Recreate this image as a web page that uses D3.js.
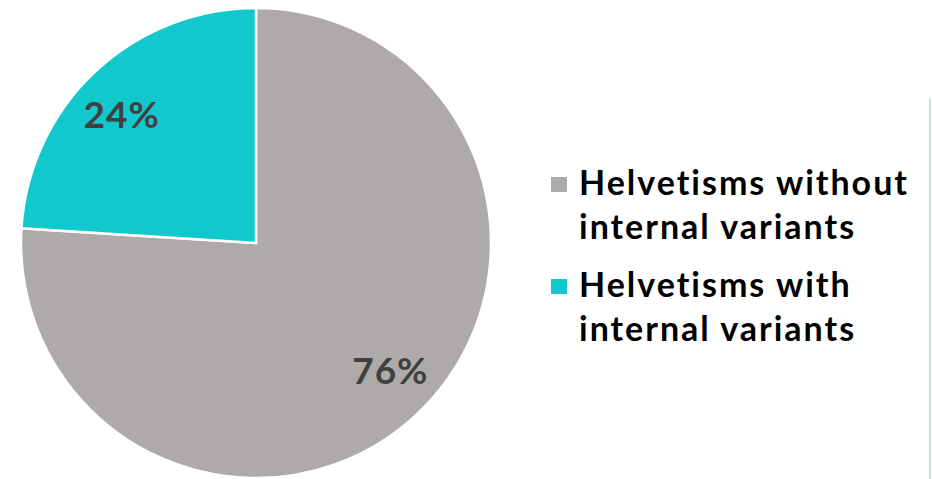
<!DOCTYPE html>
<html>
<head>
<meta charset="utf-8">
<script src="https://cdn.jsdelivr.net/npm/d3@7"></script>
<style>
  body { margin: 0; background: #fff; }
  svg { display: block; }
  text { font-variant-ligatures: none; }
</style>
</head>
<body>
<svg id="chart" width="932" height="479"></svg>
<script>
const categories = ["Helvetisms without internal variants", "Helvetisms with internal variants"];
const legendLines = [["Helvetisms without", "internal variants"], ["Helvetisms with", "internal variants"]];
const values = [76, 24];
const labels = ["76%", "24%"];
const colors = ["#aeaaaa", "#11c9cd"];

const svg = d3.select("#chart");
const cx = 256, cy = 243, radius = 235;

const pie = d3.pie().sort(null).value(d => d.value);
const arcs = pie(values.map((v, i) => ({ value: v, name: categories[i], color: colors[i], label: labels[i] })));

const arc = d3.arc().innerRadius(0).outerRadius(radius);

const g = svg.append("g").attr("transform", `translate(${cx},${cy})`);

g.selectAll("path")
    .data(arcs)
    .join("path")
    .attr("d", arc)
    .attr("fill", d => d.data.color)
    .attr("stroke", "#fff")
    .attr("stroke-width", 2.5)
    .attr("stroke-linejoin", "miter");

// percentage labels: a bit off the bisector, like the original
const labelR = radius * 0.79;
const labelPos = d => {
    const a = (d.startAngle + d.endAngle) / 2 - 0.055;
    return [labelR * Math.sin(a), -labelR * Math.cos(a)];
};
g.selectAll("text.pct")
    .data(arcs)
    .join("text")
    .attr("class", "pct")
    .attr("x", d => labelPos(d)[0])
    .attr("y", d => labelPos(d)[1])
    .attr("text-anchor", "middle")
    .attr("dy", "0.35em")
    .style("font-family", "Lato, 'Open Sans', sans-serif")
    .style("font-weight", "bold")
    .style("font-size", "37px")
    .style("letter-spacing", "1px")
    .style("fill", "#404040")
    .text(d => d.data.label);

// legend
const legend = svg.append("g").attr("transform", "translate(551,0)");
const itemY = [195, 297];
const lineGap = 44;

legendLines.forEach((lines, i) => {
    const item = legend.append("g");
    item.append("rect")
        .attr("x", 0)
        .attr("y", itemY[i] - 18)
        .attr("width", 16)
        .attr("height", 15)
        .attr("fill", colors[i]);
    const t = item.append("text")
        .style("font-family", "Lato, 'Open Sans', sans-serif")
        .style("font-weight", "bold")
        .style("font-size", "34px")
        .style("letter-spacing", "2px")
        .style("fill", "#000");
    lines.forEach((ln, j) => {
        t.append("tspan")
            .attr("x", 28)
            .attr("y", itemY[i] + j * lineGap)
            .text(ln);
    });
});

// thin divider on the right edge
svg.append("line")
    .attr("x1", 930).attr("x2", 930)
    .attr("y1", 99).attr("y2", 479)
    .attr("stroke", "#a9dcdc")
    .attr("stroke-width", 1.5);
</script>
</body>
</html>
